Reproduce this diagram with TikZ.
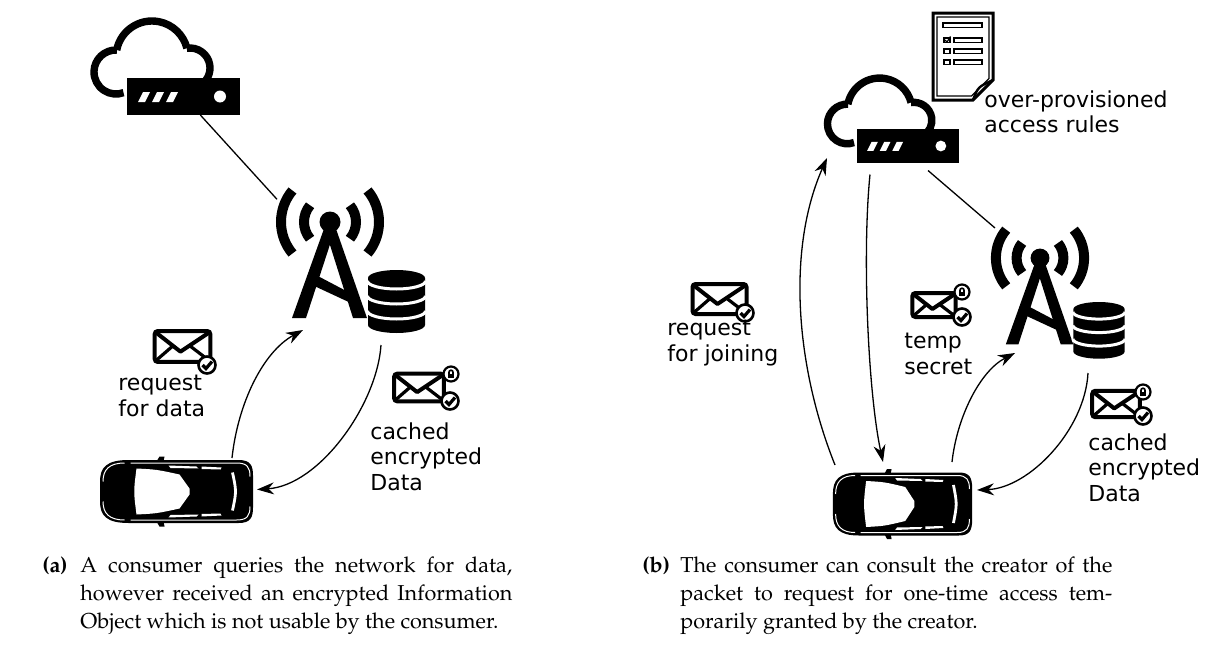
\documentclass[tikz,border=0pt]{standalone}
\usepackage[T1]{fontenc}
\usepackage{fontspec}
\setsansfont{DejaVu Sans}
\usetikzlibrary{arrows.meta}

\newcommand{\capfont}{\usefont{T1}{ppl}{m}{n}\fontsize{10.8pt}{14pt}\selectfont}
\newcommand{\lblfont}{\sffamily\fontsize{11pt}{12.75pt}\selectfont}

\tikzset{
  hold/.style 2 args={draw=none, inner sep=0pt, outer sep=0pt,
    minimum width=#1*0.5pt, minimum height=#2*0.5pt},
  lbl/.style={inner sep=0pt, anchor=north west, align=left, font=\lblfont},
  capline/.style={inner sep=0pt, anchor=base west, font=\capfont},
  link/.style={line width=0.65pt},
  arr/.style={line width=0.65pt, -{Stealth[length=8.5pt,width=6pt]}},
  % cloud with a rack server in front, origin = server centre
  cloudserver/.pic={
    \draw[line width=3.7pt]
      (-67.5,-24.5) ++(-88:22) arc[start angle=-88,end angle=-290,radius=22]
      (-31.5,-39.5) ++(-168.8:36) arc[start angle=-168.8,end angle=-14.2,radius=36]
      (6.5,-28.5) ++(-98.9:20) arc[start angle=-98.9,end angle=60,radius=20];
    \fill (-56.5,-18.5) rectangle (56.5,18.5);
    \foreach \d in {0,14,28}{
      \fill[white] ({-45.5+\d},5.5) -- ({-38.5+\d},5.5) -- ({-33.5+\d},-4.5) -- ({-40.5+\d},-4.5) -- cycle;}
    \fill[white] (36.5,0) circle[radius=6];
  },
  % radio mast, origin = centre of the top ball
  tower/.pic={
    \fill (0,0) circle[radius=10.5];
    \draw[line width=5pt]
      (40:49) arc[start angle=40,end angle=-40,radius=49]
      (140:49) arc[start angle=140,end angle=220,radius=49]
      (40:26) arc[start angle=40,end angle=-40,radius=26]
      (140:26) arc[start angle=140,end angle=220,radius=26];
    \fill (-5,4) -- (6,4) -- (-24,96) -- (-38,96) -- cycle;
    \fill (-6,4) -- (5,4) -- (37,96) -- (23,96) -- cycle;
    \fill (-20,62) -- (-16,52) -- (22,72) -- (23,82) -- cycle;
  },
  % stacked database, origin = top centre
  database/.pic={
    \fill (-28.5,8) -- (-28.5,55)
      arc[start angle=180,end angle=0,x radius=28.5,y radius=8] -- (28.5,8)
      arc[start angle=0,end angle=-180,x radius=28.5,y radius=8] -- cycle;
    \foreach \c in {11,26,41}
      \draw[white,line width=1.5pt] (-29,\c) arc[start angle=180,end angle=0,x radius=29,y radius=8];
  },
  % car seen from above, origin = centre
  car/.pic={
    \fill (-48,-31.5) -- (62,-31.5) .. controls (74,-31.5) and (76.5,-26) .. (76.5,-16)
      -- (76.5,16) .. controls (76.5,26) and (74,31.5) .. (62,31.5) -- (-48,31.5)
      .. controls (-70,31.5) and (-76.5,24) .. (-76.5,10) -- (-76.5,-10)
      .. controls (-76.5,-24) and (-70,-31.5) .. (-48,-31.5) -- cycle;
    \fill (-20,-30) -- (-17,-35) -- (-12,-35) -- (-13,-30) -- cycle;
    \fill (-20,30) -- (-17,35) -- (-12,35) -- (-13,30) -- cycle;
    \draw[white,line width=0.5pt] (-46,-28.5) -- (60,-28.5) .. controls (71,-28.5) and (73.5,-24) .. (73.5,-15)
      (-46,28.5) -- (60,28.5) .. controls (71,28.5) and (73.5,24) .. (73.5,15)
      (-73.5,-10) .. controls (-73.5,-22) and (-67,-28.5) .. (-52,-28.5)
      (-73.5,10) .. controls (-73.5,22) and (-67,28.5) .. (-52,28.5);
    \fill[white] (-40,-23) .. controls (-20,-22) .. (3,-17) -- (13,-3) -- (13,3) -- (3,17)
      .. controls (-20,22) .. (-40,23) .. controls (-43,0) .. (-40,-23) -- cycle;
    \fill[white] (-8,-26) -- (20,-25) -- (22,-23) -- (-6,-23.5) -- cycle;
    \fill[white] (-8,26) -- (20,25) -- (22,23) -- (-6,23.5) -- cycle;
    \fill[white] (25,-25) -- (45,-24) -- (44,-22) -- (25,-22.5) -- cycle;
    \fill[white] (25,25) -- (45,24) -- (44,22) -- (25,22.5) -- cycle;
    \draw[white,line width=1.4pt] (56,-19) .. controls (60,0) .. (56,19);
  },
  envelope/.pic={
    \draw[line width=2pt, rounded corners=1.5pt, fill=white] (-27,-15) rectangle (27,15);
    \draw[line width=2pt, line join=round] (-25,-13) -- (-2,5) -- (25,-13);
    \draw[line width=1.6pt] (-25,13) -- (-10,0) (25,13) -- (8,0);
  },
  checkbadge/.pic={
    \draw[line width=1.3pt, fill=white] (0,0) circle[radius=8.5];
    \draw[line width=1.6pt] (-4.5,0) -- (-1,3.5) -- (5,-3.5);
  },
  lockbadge/.pic={
    \draw[line width=1.1pt, fill=white] (0,0) circle[radius=7.5];
    \fill (-3.2,-0.5) rectangle (3.2,4.2);
    \draw[line width=0.8pt] (-2,0) -- (-2,-1.8) arc[start angle=180,end angle=360,radius=2] -- (2,0);
  },
  % access-rule sheet, origin = top left
  rules/.pic={
    \draw[line width=1.5pt, fill=white] (0,0) -- (60,0) -- (60,67) -- (40,87) -- (0,87) -- cycle;
    \draw[line width=0.6pt] (4,4) -- (56,4) -- (56,65.5) -- (38.5,83) -- (4,83) -- cycle;
    \draw[line width=1.2pt] (40,87) .. controls (45,74) .. (60,67);
    \draw[line width=0.7pt] (10,10) rectangle (49,14.5);
    \foreach \y in {25,36,47}{
      \draw[line width=0.9pt] (11,\y) rectangle (17,{\y+4.5});
      \draw[line width=0.7pt] (21,\y) rectangle (49,{\y+4.5});}
    \draw[line width=0.6pt] (12,27) -- (14,29) -- (17.5,23.5);
  },
}

\begin{document}
\begin{tikzpicture}[x=0.5pt,y=-0.5pt]
\useasboundingbox (0,0) rectangle (1217,648);

% ---------- left scene ----------
\pic at (183.5,96.5) {cloudserver};
\pic at (330,222) {tower};
\pic at (396.5,270) {database};
\pic at (176.5,491.5) {car};
\node[hold={113}{37}] (srvA) at (183.5,96.5) {};
\node[hold={106}{121}] (antA) at (330,257.5) {};
\node[hold={57}{63}] (dbA) at (396.5,301.5) {};
\node[hold={153}{63}] (carA) at (176.5,491.5) {};

\pic[scale=1.03] at (182.5,346.5) {envelope};
\pic at (207,365) {checkbadge};
\node[lbl] (reqA) at (118,375) {request\\for data};

\pic[scale=0.92] at (419,387.5) {envelope};
\pic at (451,374) {lockbadge};
\pic at (450,401) {checkbadge};
\node[lbl] (cacheA) at (370,422) {cached\\encrypted\\Data};

\draw[link] (srvA) -- (antA);
\draw[arr] ([xshift=27.75pt,yshift=1pt]carA.north)
  .. controls +(6,-55) and +(-40,22) .. ([xshift=-13.5pt,yshift=-6pt]antA.south);
\draw[arr] ([xshift=-7.75pt,yshift=-6pt]dbA.south)
  .. controls +(-4,60) and +(62,-4) .. ([xshift=2pt,yshift=1pt]carA.east);

% ---------- right scene ----------
\pic[scale=0.9] at (908,146) {cloudserver};
\pic[scale=0.9] at (1040,258) {tower};
\pic[scale=0.9] at (1099,302) {database};
\pic[xscale=0.91] at (902.5,504) {car};
\pic at (933,13) {rules};
\node[hold={102}{33}] (srvB) at (908,146) {};
\node[hold={95}{109}] (antB) at (1040,290) {};
\node[hold={51}{57}] (dbB) at (1099,330.5) {};
\node[hold={139}{62}] (carB) at (902.5,504) {};
\node[hold={60}{87}] (docB) at (963,56.5) {};
\node[lbl] (rulesB) at (984,90) {over-provisioned\\access rules};

\pic at (719.5,299) {envelope};
\pic at (745,313) {checkbadge};
\node[lbl] (reqB) at (667,320) {request\\for joining};

\pic[scale=0.8] at (934,305) {envelope};
\pic at (962,292) {lockbadge};
\pic at (962,317) {checkbadge};
\node[lbl] (tempB) at (904,333) {temp\\secret};

\pic[scale=0.88] at (1116,404) {envelope};
\pic at (1143,392) {lockbadge};
\pic at (1143,416) {checkbadge};
\node[lbl] (cacheB) at (1088,433) {cached\\encrypted\\Data};

\draw[arr] ([xshift=-33.75pt,yshift=4pt]carB.north)
  .. controls +(-40,-100) and +(-40,90) .. ([xshift=-15pt,yshift=-6pt]srvB.west);
\draw[arr] ([xshift=-19pt,yshift=-6pt]srvB.south)
  .. controls +(-8,80) and +(-15,-70) .. ([xshift=-9.75pt,yshift=5.5pt]carB.north);
\draw[link] ([xshift=10pt,yshift=-4pt]srvB.south) -- ([xshift=-22.5pt,yshift=3.75pt]antB.north);
\draw[arr] ([xshift=24.75pt,yshift=5.5pt]carB.north)
  .. controls +(5,-45) and +(-35,18) .. ([xshift=-12.5pt,yshift=-4.25pt]antB.south);
\draw[arr] ([xshift=-5.5pt,yshift=-7pt]dbB.south)
  .. controls +(-3,57) and +(52,-2) .. ([xshift=2.5pt,yshift=7pt]carB.east);

% ---------- captions ----------
\node[capline] (tagA) at (42,572) {\bfseries (a)};
\node[capline] (capA1) at (80,572) {\makebox[216pt][s]{A consumer queries the network for data,}};
\node[capline] (capA2) at (80,600) {\makebox[216pt][s]{however received an encrypted Information}};
\node[capline] (capA3) at (80,628) {Object which is not usable by the consumer.};
\node[capline] (tagB) at (642,572) {\bfseries (b)};
\node[capline] (capB1) at (680,572) {\makebox[216pt][s]{The consumer can consult the creator of the}};
\node[capline] (capB2) at (680,600) {\makebox[216pt][s]{packet to request for one-time access tem-}};
\node[capline] (capB3) at (680,628) {porarily granted by the creator.};
\end{tikzpicture}
\end{document}
